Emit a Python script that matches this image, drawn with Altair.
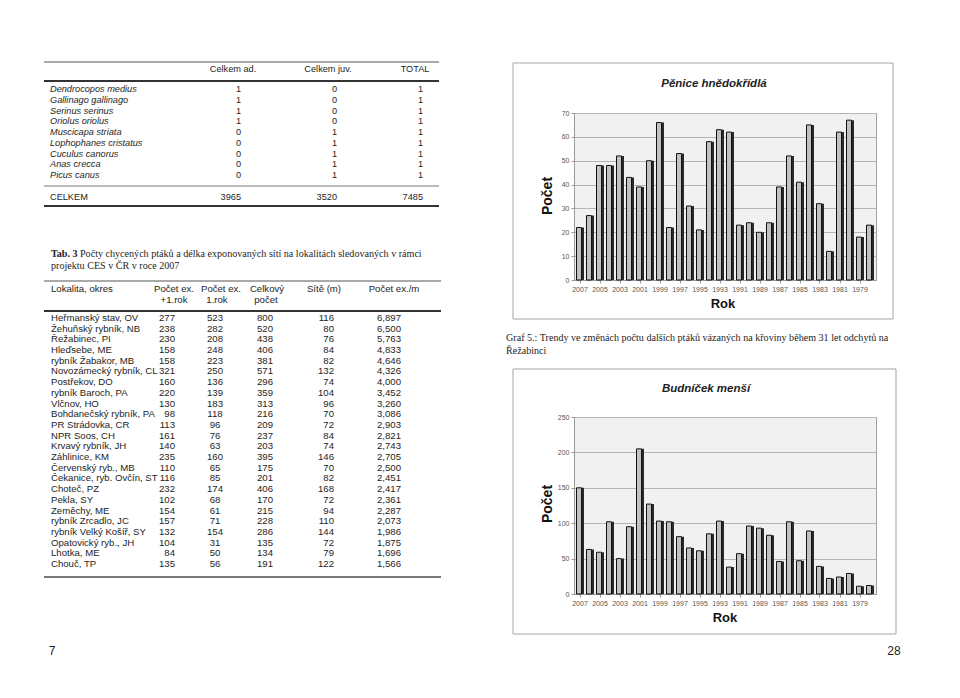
import altair as alt
import pandas as pd

# ---------------- data ----------------
species = ["Dendrocopos medius", "Gallinago gallinago", "Serinus serinus", "Oriolus oriolus",
           "Muscicapa striata", "Lophophanes cristatus", "Cuculus canorus", "Anas crecca", "Picus canus"]
species_ad = [1, 1, 1, 1, 0, 0, 0, 0, 0]
species_juv = [0, 0, 0, 0, 1, 1, 1, 1, 1]
species_total = [1, 1, 1, 1, 1, 1, 1, 1, 1]
sum_label = "CELKEM"
sum_ad, sum_juv, sum_total = 3965, 3520, 7485
table1_headers = ["Celkem ad.", "Celkem juv.", "TOTAL"]

localities = ["Heřmanský stav, OV", "Žehuňský rybník, NB", "Řežabinec, PI", "Hleďsebe, ME",
              "rybník Žabakor, MB", "Novozámecký rybník, CL", "Postřekov, DO", "rybník Baroch, PA",
              "Vlčnov, HO", "Bohdanečský rybník, PA", "PR Strádovka, CR", "NPR Soos, CH",
              "Krvavý rybník, JH", "Záhlinice, KM", "Červenský ryb., MB", "Čekanice, ryb. Ovčín, ST",
              "Choteč, PZ", "Pekla, SY", "Zeměchy, ME", "rybník Zrcadlo, JC",
              "rybník Velký Košíř, SY", "Opatovický ryb., JH", "Lhotka, ME", "Chouč, TP"]
ex_adult = [277, 238, 230, 158, 158, 321, 160, 220, 130, 98, 113, 161, 140, 235, 110, 116,
            232, 102, 154, 157, 132, 104, 84, 135]
ex_first = [523, 282, 208, 248, 223, 250, 136, 139, 183, 118, 96, 76, 63, 160, 65, 85,
            174, 68, 61, 71, 154, 31, 50, 56]
ex_total = [800, 520, 438, 406, 381, 571, 296, 359, 313, 216, 209, 237, 203, 395, 175, 201,
            406, 170, 215, 228, 286, 135, 134, 191]
nets_m = [116, 80, 76, 84, 82, 132, 74, 104, 96, 70, 72, 84, 74, 146, 70, 82,
          168, 72, 94, 110, 144, 72, 79, 122]
ex_per_m = ["6,897", "6,500", "5,763", "4,833", "4,646", "4,326", "4,000", "3,452", "3,260",
            "3,086", "2,903", "2,821", "2,743", "2,705", "2,500", "2,451", "2,417", "2,361",
            "2,287", "2,073", "1,986", "1,875", "1,696", "1,566"]

tab3_bold = "Tab. 3"
tab3_line1 = "Počty chycených ptáků a délka exponovaných sítí na lokalitách sledovaných v rámci"
tab3_line2 = "projektu CES v ČR v roce 2007"

years = [2007, 2006, 2005, 2004, 2003, 2002, 2001, 2000, 1999, 1998, 1997, 1996, 1995, 1994, 1993,
         1992, 1991, 1990, 1989, 1988, 1987, 1986, 1985, 1984, 1983, 1982, 1981, 1980, 1979, 1978]
year_labels = [2007, 2005, 2003, 2001, 1999, 1997, 1995, 1993, 1991, 1989, 1987, 1985, 1983, 1981, 1979]
penice = [22, 27, 48, 48, 52, 43, 39, 50, 66, 22, 53, 31, 21, 58, 63, 62, 23, 24, 20, 24,
          39, 52, 41, 65, 32, 12, 62, 67, 18, 23]
budnicek = [150, 63, 59, 102, 50, 95, 205, 127, 103, 102, 81, 65, 61, 85, 103, 38, 57, 96, 93, 83,
            46, 102, 47, 89, 39, 22, 24, 29, 11, 12]
penice_ticks = [0, 10, 20, 30, 40, 50, 60, 70]
budnicek_ticks = [0, 50, 100, 150, 200, 250]

graf_line1 = "Graf 5.: Trendy ve změnách počtu dalších ptáků vázaných na křoviny během 31 let odchytů na"
graf_line2 = "Řežabinci"

SANS = "Liberation Sans"
SERIF = "Liberation Serif"
INK = "#1e1e1e"
one = pd.DataFrame({"k": [0]})

T1 = 9.2    # font size, table 1
T2 = 9.6    # font size, table 2
CAP = 10.1  # caption font size

# ---------------- left panel (tables) ----------------
def txt(text, x, y, align="left", size=T2, font=SANS, weight="normal", style="normal", color=INK):
    return alt.Chart(one).mark_text(text=text, align=align, baseline="middle", fontSize=size,
                                    font=font, fontWeight=weight, fontStyle=style, color=color
                                    ).encode(x=alt.value(x), y=alt.value(y))

def hrule(y, x1, x2, w=1, color="#333"):
    return alt.Chart(one).mark_rule(color=color, strokeWidth=w).encode(
        x=alt.value(x1), x2=alt.value(x2), y=alt.value(y))

def col(df, field, x, yscale, align, size=T2, style="normal"):
    return alt.Chart(df).mark_text(align=align, baseline="middle", fontSize=size, font=SANS,
                                   fontStyle=style, color=INK).encode(
        x=alt.value(x), y=alt.Y("r:Q", scale=yscale, axis=None), text=f"{field}:N")

t1 = pd.DataFrame({"r": list(range(len(species))), "name": species,
                   "ad": [str(v) for v in species_ad], "juv": [str(v) for v in species_juv],
                   "tot": [str(v) for v in species_total]})
y1 = alt.Scale(domain=[0, len(species) - 1], range=[-24, 62])

t2 = pd.DataFrame({"r": list(range(len(localities))), "name": localities,
                   "a": [str(v) for v in ex_adult], "b": [str(v) for v in ex_first],
                   "c": [str(v) for v in ex_total], "d": [str(v) for v in nets_m], "e": ex_per_m})
y2 = alt.Scale(domain=[0, len(localities) - 1], range=[205, 451])

left_layers = [
    alt.Chart(one).mark_rule(color="white").encode(x=alt.value(0), x2=alt.value(1), y=alt.value(-104)),
    # table 1
    hrule(-51, 35, 430, 1, "#555"),
    txt(table1_headers[0], 224, -44, "center", T1),
    txt(table1_headers[1], 319, -44, "center", T1),
    txt(table1_headers[2], 406, -44, "center", T1),
    hrule(-32, 35, 430, 2, "#333"),
    col(t1, "name", 41, y1, "left", T1, "italic"),
    col(t1, "ad", 232, y1, "right", T1),
    col(t1, "juv", 328, y1, "right", T1),
    col(t1, "tot", 414, y1, "right", T1),
    hrule(73, 35, 430, 1, "#777"),
    txt(sum_label, 41, 84, "left", T1),
    txt(str(sum_ad), 232, 84, "right", T1),
    txt(str(sum_juv), 328, 84, "right", T1),
    txt(str(sum_total), 414, 84, "right", T1),
    hrule(93, 35, 430, 2, "#333"),
    # caption
    txt(tab3_bold, 42, 141, "left", CAP, SERIF, "bold"),
    txt(tab3_line1, 71, 141, "left", CAP, SERIF),
    txt(tab3_line2, 42, 153, "left", CAP, SERIF),
    # table 2
    hrule(168, 35, 432, 1, "#555"),
    txt("Lokalita, okres", 42, 176),
    txt("Počet ex.", 165, 176, "center"), txt("+1.rok", 165, 187, "center"),
    txt("Počet ex.", 212, 176, "center"), txt("1.rok", 208, 187, "center"),
    txt("Celkový", 258, 176, "center"), txt("počet", 257, 187, "center"),
    txt("Sítě (m)", 315, 176, "center"),
    txt("Počet ex./m", 385, 176, "center"),
    hrule(198, 35, 432, 2, "#333"),
    col(t2, "name", 42, y2, "left"),
    col(t2, "a", 166, y2, "right"),
    col(t2, "b", 206, y2, "center"),
    col(t2, "c", 256, y2, "center"),
    col(t2, "d", 325, y2, "right"),
    col(t2, "e", 392, y2, "right"),
    hrule(464, 35, 432, 2, "#777"),
    txt("7", 43, 538, "center", 12),
]
left = alt.layer(*left_layers).resolve_scale(y="independent").properties(
    width=432, height=481, view=alt.ViewBackground(stroke="transparent", fill="white"))

# ---------------- bar charts ----------------
def bar_chart(values, ticks, ymax, title, tx, ty, h, frame, pocet_y, rok_xy, extra):
    df = pd.DataFrame({"year": years, "count": values})
    x = alt.X("year:O", sort="descending",
              scale=alt.Scale(paddingInner=0.4, paddingOuter=0.3),
              axis=alt.Axis(values=year_labels, labelAngle=0, labelFontSize=7, labelFont=SANS,
                            labelColor="#555", tickSize=3, tickColor="#999", domainColor="#999",
                            labelPadding=2, title=None))
    y = alt.Y("count:Q", scale=alt.Scale(domain=[0, ymax], nice=False),
              axis=alt.Axis(values=ticks, labelFontSize=7, labelFont=SANS, labelColor="#555",
                            tickSize=3, tickColor="#999", domainColor="#999", gridColor="#b5b5b5",
                            labelPadding=2, title=None))
    face = alt.Chart(df).mark_bar(width=5, xOffset=-1, fill="#c2c2c2", stroke="#111",
                                  strokeWidth=1).encode(x=x, y=y)
    side = alt.Chart(df).mark_bar(width=2, xOffset=3, fill="#2a2a2a").encode(x=x, y=y)
    fx1, fx2, fy1, fy2 = frame
    box = alt.Chart(one).mark_rect(fillOpacity=0, stroke="#a5a5a5", strokeWidth=1).encode(
        x=alt.value(fx1), x2=alt.value(fx2), y=alt.value(fy1), y2=alt.value(fy2))
    ttl = txt(title, tx, ty, "center", 11.5, SANS, "bold", "italic", "#222")
    pocet = alt.Chart(one).mark_text(text="Počet", angle=270, align="center", baseline="middle",
                                     fontSize=14, font=SANS, fontWeight="bold", color="#111").encode(
        x=alt.value(-26), y=alt.value(pocet_y))
    rok = txt("Rok", rok_xy[0], rok_xy[1], "center", 13, SANS, "bold", "normal", "#111")
    return alt.layer(box, face, side, ttl, pocet, rok, *extra).properties(
        width=302, height=h, view=alt.ViewBackground(fill="#f1f1f1", stroke="#a0a0a0"))

top = bar_chart(penice, penice_ticks, 70, "Pěnice hnědokřídlá", 140, -29, 167,
                (-61, 319, -50, 206), 83, (149, 191), [])
bottom = bar_chart(budnicek, budnicek_ticks, 250, "Budníček menší", 132, -28, 177,
                   (-61, 322, -48, 217), 87, (151, 201),
                   [txt(graf_line1, -68, -79, "left", CAP, SERIF),
                    txt(graf_line2, -68, -66, "left", CAP, SERIF),
                    txt("28", 320, 234, "center", 12)])

right = alt.vconcat(top, bottom, spacing=137, bounds="flush")
chart = alt.hconcat(left, right, spacing=133, bounds="flush").properties(padding=0)

chart.save("out.html", embed_options={"renderer": "svg", "actions": False})
